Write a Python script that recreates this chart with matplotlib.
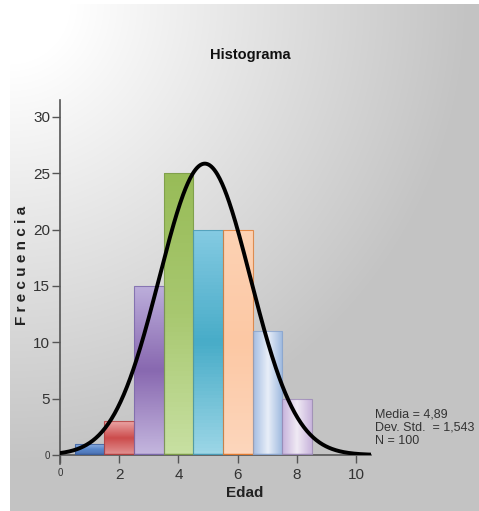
import numpy as np
import matplotlib
matplotlib.use('Agg')
import matplotlib.pyplot as plt
from matplotlib.colors import to_rgb
from matplotlib.patches import Rectangle

plt.rcParams['font.family'] = ['Liberation Sans', 'DejaVu Sans']

# histogram data
bin_centers = [1, 2, 3, 4, 5, 6, 7, 8]
counts = [1, 3, 15, 25, 20, 20, 11, 5]
mean_val = 4.89
std_val = 1.543
n_total = 100

y_ticks = [0, 5, 10, 15, 20, 25, 30]
x_ticks = [0, 2, 4, 6, 8, 10]

# gradient colours for each bar (start, middle, end) and direction
bar_grads = [
    ('#9ab8e6', '#5a88cc', '#4a70b0'),
    ('#eaa4a4', '#cc4c4c', '#e29494'),
    ('#bcaedb', '#8868b0', '#c4b6de'),
    ('#98bc58', '#a8c870', '#c8e0a2'),
    ('#84cae2', '#48acc8', '#9cd6e6'),
    ('#fdd2b4', '#fcc8a4', '#fdd6bc'),
    ('#a4bde2', '#e8eef8', '#9cb8de'),
    ('#c6b2dc', '#f0eaf4', '#c8b4dc'),
]
bar_dirs = ['v', 'v', 'v', 'v', 'v', 'v', 'h', 'h']
bar_edges = ['#3c5f9c', '#b04040', '#7a68a8', '#7a9a48', '#4a9ab4', '#e07a30', '#8aa4cc', '#9a88b4']

W, H = 479, 511
fig = plt.figure(figsize=(W / 100, H / 100), dpi=100)

# background panel with radial gradient
bg = fig.add_axes([0, 0, 1, 1], zorder=-10)
yy, xx = np.mgrid[0:H, 0:W]
r = np.hypot(xx - 10, yy - 4)
t = np.clip((r - 60) / 400, 0, 1)
v = (255 - 60 * t) / 255
v[:4, :] = 1.0
v[:, :10] = 1.0
bg.imshow(np.dstack([v, v, v]), extent=(0, W, H, 0), aspect='auto')
bg.set_xlim(0, W)
bg.set_ylim(H, 0)
bg.axis('off')

ax = fig.add_axes([60 / W, 56 / H, 311 / W, 355 / H])
ax.patch.set_alpha(0)


def grad_image(c1, c2, c3, direction, n=64):
    s = np.linspace(0, 1, n)
    a, b, c = np.array(to_rgb(c1)), np.array(to_rgb(c2)), np.array(to_rgb(c3))
    img = np.where(s[:, None] < 0.5,
                   a + (b - a) * (s[:, None] / 0.5),
                   b + (c - b) * ((s[:, None] - 0.5) / 0.5))
    if direction == 'v':
        return img[:, None, :]
    return img[None, :, :]


for xc, cnt, grad, d, ec in zip(bin_centers, counts, bar_grads, bar_dirs, bar_edges):
    left, right = xc - 0.5, xc + 0.5
    rect = Rectangle((left, 0), 1, cnt, facecolor='none', edgecolor=ec,
                     linewidth=0.8, zorder=3, alpha=0.8)
    ax.add_patch(rect)
    im = ax.imshow(grad_image(*grad, d), extent=(left, right, 0, cnt),
                   aspect='auto', origin='upper', zorder=2)
    im.set_clip_path(rect)
    ax.plot([left, right], [0, 0], color=ec, lw=2.5, zorder=3, solid_capstyle='butt')

# normal curve
xs = np.linspace(0, 10.5, 400)
ys = n_total / (std_val * np.sqrt(2 * np.pi)) * np.exp(-0.5 * ((xs - mean_val) / std_val) ** 2)
ax.plot(xs, ys, color='black', lw=2.8, zorder=5)

ax.set_xlim(0, 10.5)
ax.set_ylim(0, 31.5)
for s in ['top', 'right']:
    ax.spines[s].set_visible(False)
ax.spines['left'].set_color('#555555')
ax.spines['bottom'].set_color('#555555')
ax.spines['left'].set_linewidth(1.2)
ax.spines['bottom'].set_linewidth(1.2)
ax.spines['left'].set_bounds(-0.8, 31.5)

ax.set_yticks(y_ticks)
ax.set_xticks(x_ticks)
ax.set_xticklabels([str(x) for x in x_ticks])
ax.set_yticklabels([str(y) for y in y_ticks])
ax.tick_params(axis='both', direction='out', length=6, width=1, color='#555555',
               labelsize=11, labelcolor='#333333', pad=1)
ax.tick_params(axis='x', pad=3)
ax.get_xticklabels()[0].set_fontsize(7)
ax.get_yticklabels()[0].set_fontsize(7)

fig.text(250 / W, 1 - 55 / H, 'Histograma', ha='center', va='center',
         fontsize=10.5, fontweight='bold', color='#111111')
fig.text(245 / W, 1 - 493 / H, 'Edad', ha='center', va='center',
         fontsize=11, fontweight='bold', color='#222222')
fig.text(22 / W, 1 - 265 / H, 'F r e c u e n c i a', ha='center', va='center',
         rotation=90, fontsize=11, fontweight='bold', color='#222222')

stats = 'Media = %s\nDev. Std.  = %s\nN = %d' % (
    ('%.2f' % mean_val).replace('.', ','), ('%.3f' % std_val).replace('.', ','), n_total)
fig.text(375 / W, 1 - 428 / H, stats, ha='left', va='center', fontsize=9,
         color='#333333', linespacing=1.15)

fig.savefig('out.png', dpi=100)
